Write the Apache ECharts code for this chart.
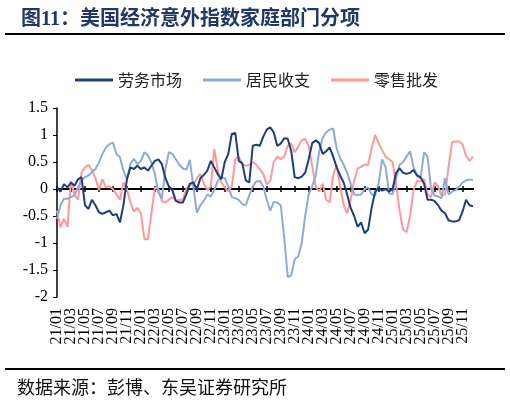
<!DOCTYPE html>
<html><head><meta charset="utf-8">
<script src="https://cdn.jsdelivr.net/npm/echarts@6/dist/echarts.min.js"></script>
<style>html,body{margin:0;padding:0;background:#fff}#c{width:510px;height:403px}</style>
</head><body><div id="c"></div>
<script>
// semi-monthly categories 2021-01 .. 2025-12
const years = [2021, 2022, 2023, 2024, 2025];
const days = ['01', '16'];
const categories = [];
years.forEach(y => { for (let m = 1; m <= 12; m++) days.forEach(d => categories.push(y + '-' + String(m).padStart(2, '0') + '-' + d)); });

const seriesNames = ['劳务市场', '居民收支', '零售批发'];

const labor = [0.03,-0.05,0.09,0.03,0.12,0.06,0.18,0.22,-0.3,-0.37,
-0.2,-0.3,-0.43,-0.46,-0.43,-0.4,-0.49,-0.46,-0.62,-0.3,
0.18,0.4,0.37,0.43,0.37,0.4,0.34,0.43,0.52,0.55,
0.46,0.2,0.05,-0.02,-0.22,-0.25,-0.25,-0.1,0.1,0.12,
-0.02,0.2,0.26,0.34,0.52,0.4,0.27,0.18,0.5,0.65,
1.02,1.04,0.52,0.48,0.16,0.12,0.8,0.82,0.8,0.97,
1.1,1.14,1.05,0.8,0.84,0.94,0.93,0.7,0.22,0.2,
0.23,0.3,0.55,0.85,0.9,0.85,0.65,0.7,0.77,0.6,
0.4,0.25,0.12,-0.1,-0.35,-0.5,-0.7,-0.62,-0.82,-0.75,
-0.35,-0.05,0.02,-0.03,0.0,-0.05,0.0,0.3,0.38,0.3,
0.28,0.3,0.35,0.25,0.22,0.1,-0.2,-0.2,-0.22,-0.3,
-0.4,-0.45,-0.58,-0.6,-0.6,-0.58,-0.42,-0.2,-0.3,-0.32];

const household = [-0.55,-0.3,-0.18,-0.18,-0.15,-0.12,0.03,0.15,0.22,0.25,
0.31,0.37,0.49,0.65,0.77,0.83,0.86,0.65,0.59,0.34,
0.18,0.46,0.56,0.46,0.52,0.68,0.62,0.49,0.28,-0.06,
-0.18,0.37,0.68,0.65,0.55,0.45,0.38,0.36,0.54,0.05,
-0.44,-0.3,-0.22,-0.1,-0.14,-0.02,0.15,0.22,0.2,0.05,
-0.15,-0.17,-0.2,-0.28,-0.3,-0.12,0.05,0.14,0.15,0.05,
-0.2,-0.4,-0.24,-0.25,-0.3,-0.9,-1.63,-1.6,-1.3,-1.25,
-1.0,-0.5,-0.1,0.05,0.25,0.7,0.95,1.05,1.1,1.12,
0.75,0.57,0.45,0.3,0.1,-0.1,-0.11,-0.1,0.0,0.03,
-0.1,-0.12,0.1,0.55,0.4,-0.08,-0.1,0.2,0.45,0.5,
0.6,0.7,0.4,0.25,0.2,0.68,0.6,0.0,-0.12,-0.14,
-0.17,0.2,-0.1,-0.05,-0.02,0.04,0.12,0.16,0.17,0.17];

const retail = [-0.4,-0.71,-0.55,-0.7,0.15,-0.1,-0.2,0.3,0.4,0.45,
0.35,0.2,-0.02,0.18,0.03,0.05,0.0,-0.1,-0.2,0.12,
0.0,-0.25,-0.42,-0.35,-0.45,-0.93,-0.93,-0.45,0.03,0.0,
-0.22,-0.25,-0.2,-0.15,-0.22,-0.2,-0.2,0.0,0.08,0.08,
0.2,0.28,0.1,-0.02,0.05,0.74,0.35,0.12,0.03,-0.05,
0.05,0.55,0.6,0.45,0.43,0.45,0.5,0.45,0.37,0.28,
0.08,0.15,0.5,0.6,0.55,0.6,0.8,0.85,0.68,0.78,
0.9,0.93,0.8,0.43,0.05,-0.05,0.1,-0.2,-0.25,0.25,
0.45,0.05,-0.3,-0.45,-0.2,0.15,0.38,0.41,0.45,0.45,
0.75,1.0,0.85,0.72,0.6,0.55,0.5,0.1,-0.4,-0.75,
-0.8,-0.5,-0.02,0.15,0.15,0.18,-0.1,-0.15,0.12,0.05,
-0.12,-0.1,0.4,0.87,0.88,0.88,0.83,0.62,0.52,0.6];

const colors = ['#1f3f7a', '#8eaadc', '#ff9999'];
const SERIF = "'Liberation Serif', 'Noto Sans CJK SC', serif";
const CJK = "'Noto Sans CJK SC', sans-serif";
const gridRect = { left: 57, right: 37, top: 108, bottom: 106 };
const showTick = (i) => i % 4 === 0;
// empty spacer labels next to the first/last labels keep them from being auto-hidden
const showLabel = (i) => i % 4 === 0 || i === 1 || i === categories.length - 5;

const chart = echarts.init(document.getElementById('c'), null, { renderer: 'canvas' });
chart.setOption({
  backgroundColor: '#fff',
  animation: false,
  title: {
    text: '图11：美国经济意外指数家庭部门分项',
    left: 16, top: 5,
    textStyle: { fontFamily: SERIF, fontSize: 20, fontWeight: 'bold', color: '#1f3864' }
  },
  legend: {
    data: seriesNames, left: 75, top: 72, padding: 0,
    itemWidth: 38, itemHeight: 3, itemGap: 21,
    icon: 'rect',
    textStyle: { fontFamily: CJK, fontSize: 16, color: '#222' }
  },
  graphic: [
    { type: 'line', shape: { x1: 5, y1: 34, x2: 505, y2: 34 }, style: { stroke: '#000', lineWidth: 2 } },
    { type: 'line', shape: { x1: 5, y1: 369, x2: 505, y2: 369 }, style: { stroke: '#000', lineWidth: 2 } },
    { type: 'text', left: 17, top: 378, style: { text: '数据来源：彭博、东吴证券研究所', font: "18px 'Noto Sans CJK SC'", fill: '#111' } }
  ],
  grid: [gridRect, gridRect],
  xAxis: [
    { type: 'category', gridIndex: 0, data: categories, boundaryGap: false, position: 'bottom',
      axisLine: { show: false, onZero: false }, axisTick: { show: false },
      axisLabel: { interval: showLabel, rotate: 90, margin: 11, fontFamily: SERIF, fontSize: 16, lineHeight: 11, color: '#000',
        showMinLabel: true, showMaxLabel: true, hideOverlap: false,
        formatter: v => v.slice(8) === '16' ? '' : v.slice(2, 4) + '/' + v.slice(5, 7) } },
    { type: 'category', gridIndex: 0, data: categories, boundaryGap: false, position: 'top',
      axisLine: { show: true, onZero: true, lineStyle: { color: '#000', width: 2 } },
      axisTick: { show: true, interval: showTick, length: 3, lineStyle: { color: '#000', width: 1.5 } },
      axisLabel: { show: false } },
    { type: 'category', gridIndex: 1, data: categories, boundaryGap: false, position: 'bottom',
      axisLine: { show: true, onZero: true, lineStyle: { color: '#000', width: 2 } },
      axisTick: { show: true, interval: showTick, length: 3, lineStyle: { color: '#000', width: 1.5 } },
      axisLabel: { show: false } }
  ],
  yAxis: [
    { type: 'value', gridIndex: 0, min: -2, max: 1.5, interval: 0.5,
      axisLine: { show: true, onZero: false, lineStyle: { color: '#000', width: 1.5 } },
      axisTick: { show: true, length: 4, lineStyle: { color: '#000' } },
      splitLine: { show: false },
      axisLabel: { fontFamily: SERIF, fontSize: 16, color: '#000', margin: 9 } },
    { type: 'value', gridIndex: 1, min: -2, max: 1.5, interval: 0.5, show: false }
  ],
  series: [
    { name: seriesNames[0], type: 'line', data: labor, xAxisIndex: 0, yAxisIndex: 0, showSymbol: false, symbol: 'none',
      lineStyle: { color: colors[0], width: 2 }, itemStyle: { color: colors[0] }, z: 5 },
    { name: seriesNames[1], type: 'line', data: household, xAxisIndex: 0, yAxisIndex: 0, showSymbol: false, symbol: 'none',
      lineStyle: { color: colors[1], width: 2 }, itemStyle: { color: colors[1] }, z: 4 },
    { name: seriesNames[2], type: 'line', data: retail, xAxisIndex: 0, yAxisIndex: 0, showSymbol: false, symbol: 'none',
      lineStyle: { color: colors[2], width: 2 }, itemStyle: { color: colors[2] }, z: 3 }
  ]
});
</script></body></html>
